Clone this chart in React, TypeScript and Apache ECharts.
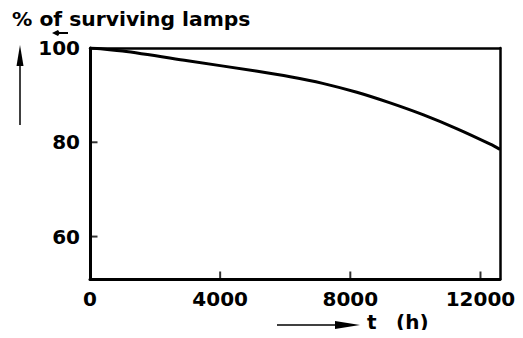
import React, { useEffect, useRef } from "react";
import * as echarts from "echarts";

const hours = [0, 1000, 3000, 5100, 6150, 7150, 8200, 9200, 10250, 11300, 12300, 12600];
const surviving = [100, 99.35, 97.3, 95.1, 93.9, 92.5, 90.6, 88.4, 85.8, 82.8, 79.6, 78.5];
const xTickValues = [4000, 8000, 12000];
const yLabelValues = [60, 80, 100];
const yTickValues = [60, 80];
const X_MIN = 0;
const X_MAX = 12600;
const Y_MIN = 51;
const Y_MAX = 100;

const FONT = "DejaVu Sans";

export default function App() {
  const ref = useRef<HTMLDivElement>(null);
  useEffect(() => {
    if (!ref.current) return;
    const chart = echarts.init(ref.current, null, { renderer: "svg" });
    const frameAxis = {
      type: "value",
      axisLine: { show: true, onZero: false, lineStyle: { color: "#000", width: 2.5 } },
      axisTick: { show: false },
      axisLabel: { show: false },
      splitLine: { show: false },
    };
    chart.setOption({
      animation: false,
      backgroundColor: "#fff",
      grid: {
        left: 90,
        right: 23,
        top: 48,
        bottom: 59,
        show: false,
      },
      xAxis: [
        {
          type: "value",
          min: X_MIN,
          max: X_MAX,
          interval: 4000,
          axisLine: { show: true, onZero: false, lineStyle: { color: "#000", width: 3 } },
          axisTick: { show: false },
          axisLabel: {
            showMaxLabel: false,
            formatter: (v: number) => String(v),
            color: "#000",
            fontFamily: FONT,
            fontWeight: "bold",
            fontSize: 20,
            margin: 10,
          },
          splitLine: { show: false },
        },
        { ...frameAxis, position: "top", min: X_MIN, max: X_MAX },
      ],
      yAxis: [
        {
          type: "value",
          min: Y_MIN,
          max: Y_MAX,
          axisLine: { show: true, onZero: false, lineStyle: { color: "#000", width: 3 } },
          axisTick: { show: false },
          axisLabel: {
            customValues: yLabelValues,
            color: "#000",
            fontFamily: FONT,
            fontWeight: "bold",
            fontSize: 20,
            margin: 10,
          },
          splitLine: { show: false },
        },
        { ...frameAxis, position: "right", min: Y_MIN, max: Y_MAX },
      ],
      series: [
        {
          type: "line",
          data: hours.map((h, i) => [h, surviving[i]]),
          smooth: 0.3,
          symbol: "none",
          lineStyle: { color: "#000", width: 3 },
        },
        {
          type: "scatter",
          silent: true,
          clip: false,
          symbol: "rect",
          symbolSize: [2, 7],
          symbolOffset: [0, -4],
          itemStyle: { color: "#000" },
          data: xTickValues.map((v) => [v, Y_MIN]),
        },
        {
          type: "scatter",
          silent: true,
          clip: false,
          symbol: "rect",
          symbolSize: [7, 2],
          symbolOffset: [4, 0],
          itemStyle: { color: "#000" },
          data: yTickValues.map((v) => [X_MIN, v]),
        },
      ],
      graphic: [
        {
          type: "text",
          left: 12,
          top: 9,
          style: {
            text: "% of surviving lamps",
            fill: "#000",
            font: `bold 20.3px "${FONT}"`,
          },
        },
        {
          type: "polygon",
          shape: { points: [[52, 33], [58, 30], [60, 33], [58, 36]] },
          style: { fill: "#000" },
        },
        {
          type: "line",
          shape: { x1: 58, y1: 33, x2: 68, y2: 33 },
          style: { stroke: "#000", lineWidth: 2 },
        },
        {
          type: "line",
          shape: { x1: 20, y1: 60, x2: 20, y2: 125 },
          style: { stroke: "#000", lineWidth: 1.5 },
        },
        {
          type: "polygon",
          shape: { points: [[20, 45], [23.5, 66], [16.5, 66]] },
          style: { fill: "#000" },
        },
        {
          type: "line",
          shape: { x1: 277, y1: 325, x2: 340, y2: 325 },
          style: { stroke: "#000", lineWidth: 1.5 },
        },
        {
          type: "polygon",
          shape: { points: [[360, 325], [335, 321], [335, 329]] },
          style: { fill: "#000" },
        },
        {
          type: "text",
          left: 367,
          top: 312,
          style: { text: "t", fill: "#000", font: `bold 20px "${FONT}"` },
        },
        {
          type: "text",
          left: 396,
          top: 312,
          style: { text: "(h)", fill: "#000", font: `bold 20px "${FONT}"` },
        },
      ],
    });
    return () => chart.dispose();
  }, []);
  return <div ref={ref} style={{ width: 523, height: 338, margin: -8 }} />;
}
